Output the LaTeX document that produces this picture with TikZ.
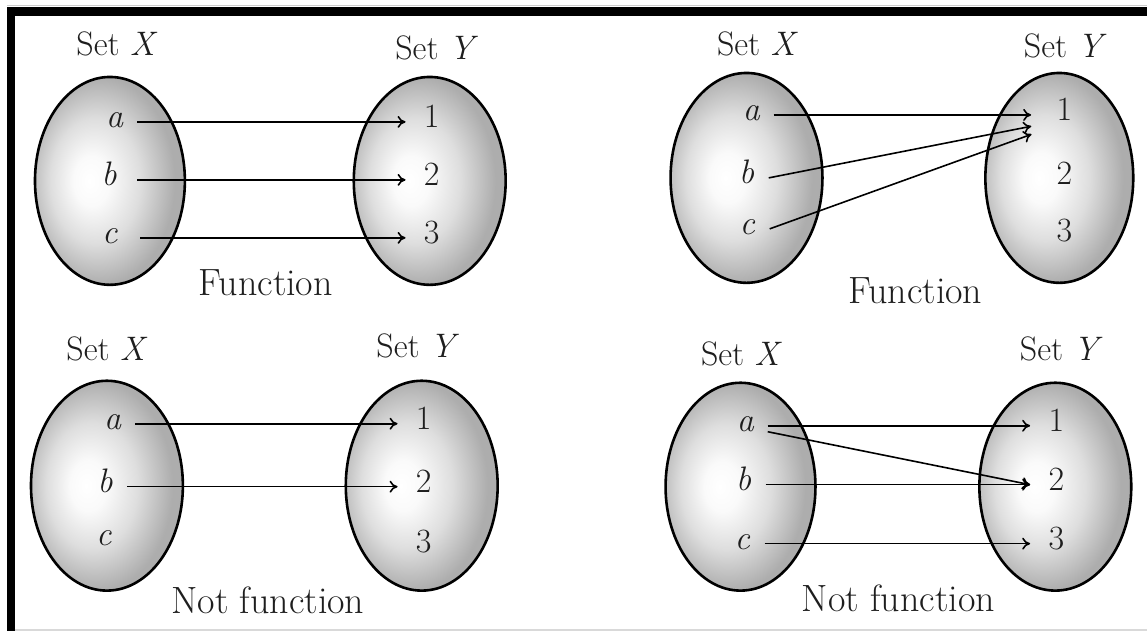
\documentclass[tikz,border=0pt]{standalone}
\usetikzlibrary{arrows.meta,shapes.geometric}
\definecolor{txt}{RGB}{30,30,30}
\pgfdeclareradialshading{setshade}{\pgfpoint{-7bp}{0bp}}{color(0bp)=(white); color(6bp)=(black!2); color(15bp)=(black!13); color(25bp)=(black!32); color(50bp)=(black!32)}
\begin{document}
\begin{tikzpicture}[x=1pt,y=-1pt,
  lab/.style={font=\fontsize{34}{40}\selectfont, text=txt, inner sep=0pt},
  caption/.style={lab, font=\fontsize{38}{44}\selectfont},
  elt/.style={lab, text height=12pt, text depth=0pt},
  lett/.style={elt, minimum width=44pt},
  digit/.style={elt, minimum width=52pt},
  setshape/.style={ellipse, draw=black, line width=2.6pt, shading=setshade, inner sep=0pt, minimum width=150pt, minimum height=208pt},
  arr/.style={line width=1.6pt, -{To[length=8pt,width=12pt]}}]
% canvas and border
\fill[white] (0,0) rectangle (1148,632);
\draw[black!20, line width=1pt] (7,6) -- (1148,6);
\fill[black] (7,7) rectangle (1148,16);
\fill[black] (7,7) rectangle (15,631);
\draw[black!15, line width=1.5pt] (15,630.5) -- (1148,630.5);

% ---------- Panel 1 ----------
\node[setshape] (X1) at (110,181) {};
\node[setshape, minimum width=152pt] (Y1) at (430,181) {};
\node[lab] (sx1) at (117,44) {Set \textit{X}};
\node[lab] (sy1) at (437,48) {Set \textit{Y}};
\node[caption] (f1) at (266,283) {Function};
\node[lett] (a1) at (115,122) {\textit{a}};
\node[lett] (b1) at (109,180) {\textit{b}};
\node[lett] (c1) at (110,238) {\textit{c}};
\node[digit] (o1) at (432,122) {1};
\node[digit] (t1) at (432,180) {2};
\node[digit] (h1) at (432,238) {3};
\draw[arr] (a1.east) -- (o1.west);
\draw[arr, shorten <=6pt] (b1.east) -- (t1.west);
\draw[arr, shorten <=8pt] (c1.east) -- (h1.west);

% ---------- Panel 2 ----------
\node[setshape, minimum width=152pt, minimum height=210pt] (X2) at (747,178) {};
\node[setshape, minimum width=148pt, minimum height=210pt] (Y2) at (1060,178) {};
\node[lab] (sx2) at (758,44) {Set \textit{X}};
\node[lab] (sy2) at (1066,46) {Set \textit{Y}};
\node[caption] (f2) at (916,291) {Function};
\node[lett] (a2) at (752,115) {\textit{a}};
\node[lett] (b2) at (747,178) {\textit{b}};
\node[lett] (c2) at (748,229) {\textit{c}};
\node[digit] (o2) at (1065,115) {1};
\node[digit] (t2) at (1065,179) {2};
\node[digit] (h2) at (1065,236) {3};
\draw[arr, shorten >=7pt] (a2.east) -- (o2.west);
\draw[arr, shorten >=7pt] (b2.east) -- ([yshift=-10pt]o2.west);
\draw[arr, shorten >=7pt] (c2.east) -- ([yshift=-17pt]o2.west);

% ---------- Panel 3 ----------
\node[setshape, minimum width=152pt, minimum height=210pt] (X3) at (107,486) {};
\node[setshape, minimum width=152pt, minimum height=210pt] (Y3) at (422,486) {};
\node[lab] (sx3) at (107,349) {Set \textit{X}};
\node[lab] (sy3) at (418,346) {Set \textit{Y}};
\node[caption] (f3) at (268,601) {Not function};
\node[lett] (a3) at (113,424) {\textit{a}};
\node[lett] (b3) at (105,487) {\textit{b}};
\node[lett] (c3) at (104,540) {\textit{c}};
\node[digit] (o3) at (424,424) {1};
\node[digit] (t3) at (424,487) {2};
\node[digit] (h3) at (424,547) {3};
\draw[arr] (a3.east) -- (o3.west);
\draw[arr] (b3.east) -- (t3.west);

% ---------- Panel 4 ----------
\node[setshape] (X4) at (741,487) {};
\node[setshape, minimum width=152pt] (Y4) at (1056,487) {};
\node[lab] (sx4) at (742,354) {Set \textit{X}};
\node[lab] (sy4) at (1062,349) {Set \textit{Y}};
\node[caption] (f4) at (899,599) {Not function};
\node[lett] (a4) at (746,426) {\textit{a}};
\node[lett] (b4) at (744,485) {\textit{b}};
\node[lett] (c4) at (743,544) {\textit{c}};
\node[digit] (o4) at (1057,426) {1};
\node[digit] (t4) at (1057,485) {2};
\node[digit] (h4) at (1057,544) {3};
\draw[arr] (a4.east) -- (o4.west);
\draw[arr] ([yshift=-6pt]a4.east) -- (t4.west);
\draw[arr] (b4.east) -- (t4.west);
\draw[arr] (c4.east) -- (h4.west);
\end{tikzpicture}
\end{document}
